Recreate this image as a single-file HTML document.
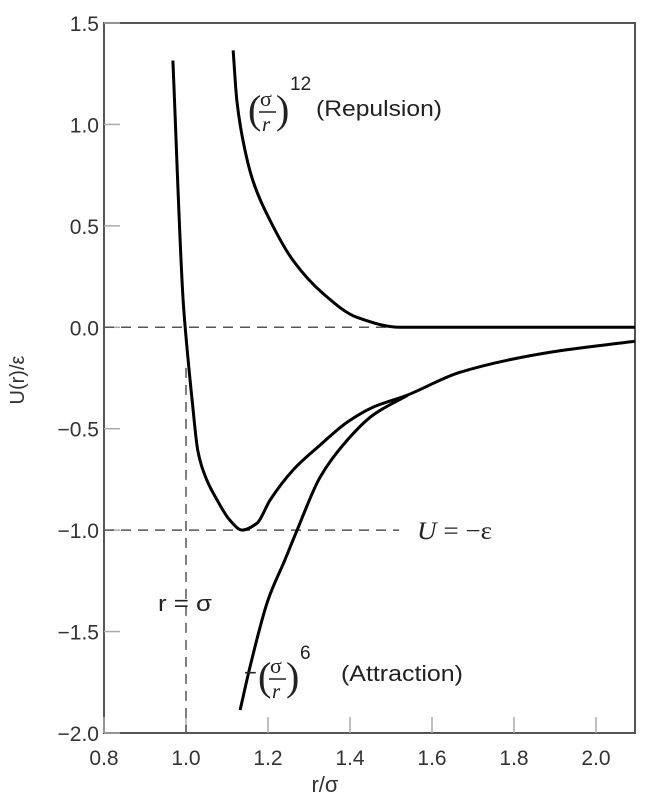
<!DOCTYPE html>
<html><head><meta charset="utf-8"><style>
html,body{margin:0;padding:0;background:#fff;}
svg{display:block;font-family:"Liberation Sans",sans-serif;}
</style></head><body>
<svg id="chart" width="651" height="803" viewBox="0 0 651 803"></svg>
<script>
const xTicks=[0.8,1.0,1.2,1.4,1.6,1.8,2.0];
const xTickLabels=["0.8","1.0","1.2","1.4","1.6","1.8","2.0"];
const yTicks=[1.5,1.0,0.5,0.0,-0.5,-1.0,-1.5,-2.0];
const yTickLabels=["1.5","1.0","0.5","0.0","\u22120.5","\u22121.0","\u22121.5","\u22122.0"];
const ljR=[0.968,0.993,0.998,1.015,1.029,1.051,1.076,1.107,1.137,1.173,1.205,1.261,1.327,1.393,1.456,1.539,1.668,1.888,2.095];
const ljU=[1.315,0.133,0.0,-0.36,-0.61,-0.754,-0.852,-0.951,-1.0,-0.966,-0.852,-0.704,-0.581,-0.468,-0.394,-0.335,-0.222,-0.123,-0.069];
const repR=[1.115,1.124,1.139,1.163,1.205,1.261,1.334,1.417,1.522,1.8,2.095];
const repU=[1.365,1.118,0.921,0.724,0.527,0.330,0.167,0.049,0.0,0.0,0.0];
const attR=[1.132,1.156,1.2,1.241,1.271,1.327,1.393,1.456,1.541];
const attU=[-1.887,-1.675,-1.345,-1.148,-1.0,-0.739,-0.557,-0.433,-0.335];
const NS="http://www.w3.org/2000/svg";
const svg=document.getElementById('chart');
const L=104,R=635,T=23,B=733;
const xS=v=>L+(v-0.8)*410;
const yS=v=>B-(v+2.0)*(B-T)/3.5;
function mk(tag,attrs,parent){const e=document.createElementNS(NS,tag);for(const k in attrs)e.setAttribute(k,attrs[k]);(parent||svg).appendChild(e);return e;}
const box=mk('rect',{x:L,y:T,width:R-L,height:B-T,fill:'none',stroke:'#555','stroke-width':2});


xTicks.forEach((t,i)=>{
  const ln=mk('line',{x1:xS(t),x2:xS(t),y1:B,y2:B-16,stroke:'#aaa','stroke-width':1.5});
  
  
  const tx=mk('text',{x:xS(t),y:B+32,'text-anchor':'middle','font-size':21,fill:'#333'});
  tx.textContent=xTickLabels[i];
  
  
});
yTicks.forEach((t,i)=>{
  const ln=mk('line',{x1:L,x2:L+16,y1:yS(t),y2:yS(t),stroke:'#aaa','stroke-width':1.5});
  
  
  const tx=mk('text',{x:L-5,y:yS(t)+8,'text-anchor':'end','font-size':21,fill:'#333'});
  tx.textContent=yTickLabels[i];
  
  
});
function dash(x1,y1,x2,y2,name){const d=mk('line',{x1,y1,x2,y2,stroke:'#555','stroke-width':1.5,'stroke-dasharray':'10,7'});

}
dash(L,yS(0),xS(1.5),yS(0),'zero-line');
dash(L,yS(-1),xS(1.52),yS(-1),'minimum-line');
dash(xS(1.0),yS(-0.2),xS(1.0),B,'r-sigma-line');
// monotone cubic (Fritsch-Carlson) in pixel space
function curve(rs,us,name){
  const X=rs.map(xS),Y=us.map(yS),n=X.length;
  const dx=[],m=[];
  for(let i=0;i<n-1;i++){dx[i]=X[i+1]-X[i];m[i]=(Y[i+1]-Y[i])/dx[i];}
  const t=[m[0]];
  for(let i=1;i<n-1;i++){t[i]=(m[i-1]*m[i]<=0)?0:(dx[i-1]+2*dx[i]+dx[i-1]+dx[i]*0)/1;
    if(m[i-1]*m[i]>0){const w1=2*dx[i]+dx[i-1],w2=dx[i]+2*dx[i-1];t[i]=(w1+w2)/(w1/m[i-1]+w2/m[i]);}}
  t[n-1]=m[n-2];
  let d='M'+X[0]+','+Y[0];
  for(let i=0;i<n-1;i++){
    const h=dx[i]/3;
    d+=` C${X[i]+h},${Y[i]+t[i]*h} ${X[i+1]-h},${Y[i+1]-t[i+1]*h} ${X[i+1]},${Y[i+1]}`;
  }
  const e=mk('path',{d,fill:'none',stroke:'#000','stroke-width':3,'stroke-linejoin':'round'});
  
  
}
curve(ljR,ljU,'lennard-jones-curve');
curve(repR,repU,'repulsion-curve');
curve(attR,attU,'attraction-curve');
</script>
<svg width="651" height="803" style="position:absolute;left:0;top:0">
<g font-family="Liberation Sans, sans-serif" fill="#222">
<g>
<text x="248" y="123" font-size="40" font-family="Liberation Serif, serif">(</text>
<text x="260" y="106" font-size="22" font-family="Liberation Serif, serif">σ</text>
<line x1="259" y1="112" x2="276" y2="112" stroke="#222" stroke-width="1.5"/>
<text x="262" y="131" font-size="21" font-style="italic" font-family="Liberation Serif, serif">r</text>
<text x="276" y="123" font-size="40" font-family="Liberation Serif, serif">)</text>
<text x="290" y="90" font-size="19">12</text>
<text x="316" y="116" font-size="22" textLength="126" lengthAdjust="spacingAndGlyphs">(Repulsion)</text>
</g>
<g>
<text x="244" y="680" font-size="22">−</text>
<text x="258" y="690" font-size="40" font-family="Liberation Serif, serif">(</text>
<text x="270" y="673" font-size="22" font-family="Liberation Serif, serif">σ</text>
<line x1="269" y1="679" x2="286" y2="679" stroke="#222" stroke-width="1.5"/>
<text x="272" y="698" font-size="21" font-style="italic" font-family="Liberation Serif, serif">r</text>
<text x="286" y="690" font-size="40" font-family="Liberation Serif, serif">)</text>
<text x="300" y="659" font-size="19">6</text>
<text x="341" y="681" font-size="22" textLength="122" lengthAdjust="spacingAndGlyphs">(Attraction)</text>
</g>
<text x="417" y="539" font-size="25" font-family="Liberation Serif, serif" textLength="75" lengthAdjust="spacingAndGlyphs"><tspan font-style="italic">U</tspan> = −ε</text>
<text x="158" y="611" font-size="22" textLength="54" lengthAdjust="spacingAndGlyphs">r = σ</text>
<text x="325" y="792" font-size="22" text-anchor="middle" fill="#333">r/σ</text>
<text x="0" y="0" font-size="20" text-anchor="middle" fill="#333" transform="translate(24,380) rotate(-90)">U(r)/ε</text>
</g>
</svg>
</body></html>
